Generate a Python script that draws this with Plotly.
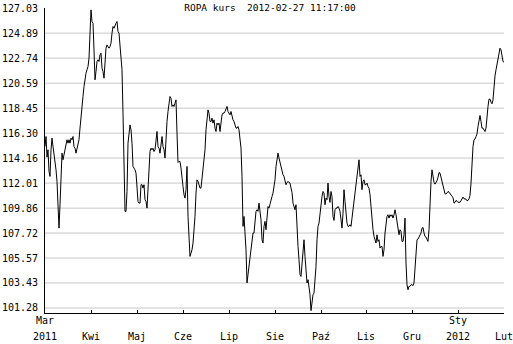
import plotly.graph_objects as go

# Price readings (one per session, left to right)
price = [
    115.15, 116.01, 114.24, 114.87, 113.01, 112.58, 114.87, 115.87, 115.15, 114.58,
    113.73, 113.15, 112.15, 109.43, 108.14, 110.15, 112.58, 114.58, 114.01, 114.44,
    114.72, 115.01, 115.73, 115.44, 115.73, 115.44, 115.87, 115.73, 116.01, 115.15,
    115.01, 114.58, 115.01, 115.15, 115.73, 116.73, 117.87, 118.73, 119.45, 120.31,
    121.16, 121.45, 121.74, 122.02, 122.74, 124.89, 126.89, 125.89, 125.74, 123.45,
    120.88, 121.59, 122.45, 122.60, 122.45, 123.02, 123.17, 121.88, 121.59, 121.02,
    122.60, 123.60, 123.88, 123.74, 123.60, 123.74, 124.03, 124.89, 125.46, 125.31,
    125.60, 125.74, 125.89, 125.03, 124.89, 124.03, 123.02, 121.74, 118.02, 112.58,
    109.58, 109.58, 111.29, 115.44, 116.58, 117.01, 116.58, 115.44, 113.44, 113.30,
    113.15, 112.87, 111.29, 110.43, 110.29, 110.29, 111.87, 111.87, 111.58, 111.87,
    110.58, 110.43, 109.86, 111.87, 113.44, 114.72, 115.01, 114.87, 115.01, 114.72,
    114.87, 115.73, 116.44, 115.15, 115.01, 114.58, 115.58, 116.01, 115.15, 114.87,
    114.16, 116.58, 117.30, 118.16, 118.73, 119.45, 119.30, 118.59, 118.73, 118.59,
    118.87, 119.16, 116.30, 113.78, 113.87, 113.87, 113.30, 112.72, 111.72, 111.01,
    110.72, 111.44, 113.44, 109.15, 106.86, 105.71, 106.00, 106.28, 106.86, 107.86,
    109.15, 111.15, 112.29, 112.15,
    111.72, 111.58, 111.58, 112.44, 113.30, 113.87, 114.87, 116.58, 117.59, 118.30,
    118.02, 117.30, 117.30, 117.59, 117.16, 117.44, 116.73, 116.44, 117.16, 117.01,
    117.16, 116.44, 117.16, 117.87, 118.02, 118.02, 118.16, 118.45, 118.59, 118.16,
    118.02, 117.87, 118.16, 117.73, 117.44, 117.30, 117.01, 116.73, 116.73, 116.87,
    116.58, 116.01, 115.01, 112.58, 108.29, 109.15, 107.86, 106.28, 103.43, 104.14,
    104.71, 105.43, 106.43, 107.29, 107.72, 107.72, 108.57, 109.58, 109.72, 109.58,
    110.29, 109.72, 108.86, 107.14, 106.86, 108.29, 108.72, 108.00, 109.43, 110.00,
    109.86, 110.29, 110.43, 110.86, 111.15, 111.72, 112.29, 113.44, 114.29, 114.58,
    114.16, 113.73, 113.44, 113.01, 112.72, 112.58, 112.15, 111.87, 112.07, 112.15,
    112.07, 112.01, 111.58, 111.21, 110.29, 109.86, 109.72, 110.15, 108.00, 106.57,
    105.43, 104.14, 103.99, 105.14, 106.00, 107.14, 105.71, 103.99, 103.43, 103.71,
    103.00, 102.42, 101.05, 101.99, 102.42, 102.57, 103.43, 104.85, 107.14, 108.29,
    108.57, 109.43, 110.29, 110.86, 111.29, 111.15, 110.15, 110.72, 110.58, 112.01,
    110.86, 110.35, 111.29, 110.86, 109.15, 108.80, 109.72, 109.86, 109.86, 110.00,
    109.86, 109.58, 108.86, 108.14, 109.43, 111.44, 110.43, 109.29, 108.57, 108.29,
    108.29, 108.43,
    108.29, 109.00, 109.72, 110.58, 111.44, 112.15, 113.01, 113.58, 114.01, 112.58,
    112.72, 111.44, 112.15, 112.29, 111.87, 111.87, 112.01, 111.72, 111.58, 111.01,
    109.86, 109.29, 108.00, 107.43, 107.00, 106.86, 107.57, 107.00, 107.14, 106.43,
    106.57, 106.57, 105.71, 106.28, 107.72, 108.57, 109.15, 109.29, 109.00, 109.29,
    109.15, 109.29, 109.00, 109.29, 109.72, 109.29, 108.72, 108.00, 107.57, 108.00,
    107.86, 107.00, 107.00, 107.57, 109.00, 105.14, 103.28, 102.85, 103.14, 103.14,
    103.28, 103.28, 103.20, 103.43, 104.85, 106.57, 107.14, 107.20, 107.37, 107.49,
    107.72, 108.14, 108.20, 107.72, 107.43, 107.37, 107.20, 107.00, 108.00, 111.01,
    112.15, 113.15, 112.58, 112.07, 111.92, 112.07, 112.21, 112.50, 112.92, 112.87,
    112.52, 112.09, 111.81, 111.35, 111.09, 111.06, 111.21, 111.29, 111.24, 111.09,
    110.95, 110.86, 110.78, 110.29, 110.35, 110.52, 110.46, 110.35, 110.38, 110.35,
    110.49, 110.66, 110.81, 110.66, 110.66, 110.63, 110.49, 110.52, 110.66, 110.95,
    112.01, 113.87, 115.15, 115.73, 115.79, 116.01, 116.24, 116.87, 117.59, 117.82,
    117.30, 116.73, 116.73, 116.58, 116.44, 116.73, 117.87, 118.59, 119.22, 119.22,
    118.96, 118.82, 119.16, 120.59, 121.22, 121.74, 122.17, 122.60, 123.17, 123.60,
    123.45, 122.65, 122.45, 122.40,
]

y_ticks = [101.28, 103.43, 105.57, 107.72, 109.86, 112.01, 114.16,
           116.30, 118.45, 120.59, 122.74, 124.89, 127.03]
x_tick_pos = [0, 46, 92, 138, 184, 230, 276, 321, 367, 413, 459]
x_tick_text = ["2011", "Kwi", "Maj", "Cze", "Lip", "Sie", "Paź", "Lis", "Gru", "2012", "Lut"]
x_upper_text = ["Mar", "Sty"]
x_upper_pos = [0, 413]
title_text = "ROPA kurs\u00a0\u00a02012-02-27 11:17:00"

session = list(range(len(price)))

fig = go.Figure(go.Scatter(x=session, y=price, mode="lines",
                           line=dict(color="black", width=1), hoverinfo="skip"))

font_family = "DejaVu Sans Mono"
fig.update_layout(
    width=513, height=344,
    margin=dict(l=45, r=9, t=8, b=31),
    paper_bgcolor="white", plot_bgcolor="white",
    showlegend=False,
    font=dict(family=font_family, size=10, color="black"),
    title=dict(text=title_text, xref="container", yref="container",
               x=270 / 513, y=1 - 7.5 / 344, xanchor="center", yanchor="middle",
               font=dict(family=font_family, size=9.5, color="black")),
    xaxis=dict(range=[0, 459], tickmode="array", tickvals=x_tick_pos, ticktext=x_tick_text,
               ticks="inside", ticklen=3, tickcolor="black", tickwidth=1,
               showline=True, linecolor="black", linewidth=1,
               showgrid=False, zeroline=False, ticklabelstandoff=14,
               ticklabeloverflow="allow", automargin=False),
    yaxis=dict(range=[100.85, 127.05], tickmode="array", tickvals=y_ticks,
               ticktext=[f"{v:.2f}" for v in y_ticks],
               ticks="", showline=True, linecolor="black", linewidth=1,
               showgrid=False, zeroline=False, ticklabelstandoff=4,
               automargin=False),
)

# horizontal grid lines at every tick except the top one
for v in y_ticks[:-1]:
    fig.add_shape(type="line", xref="paper", x0=0, x1=1, yref="y", y0=v, y1=v,
                  line=dict(color="#c8c8c8", width=1), layer="below")

for txt, pos in zip(x_upper_text, x_upper_pos):
    fig.add_annotation(x=pos, xref="x", y=-7.5 / 305, yref="paper", text=txt,
                       showarrow=False, xanchor="center", yanchor="middle",
                       font=dict(family=font_family, size=10, color="black"))

fig.write_html("out.html")
